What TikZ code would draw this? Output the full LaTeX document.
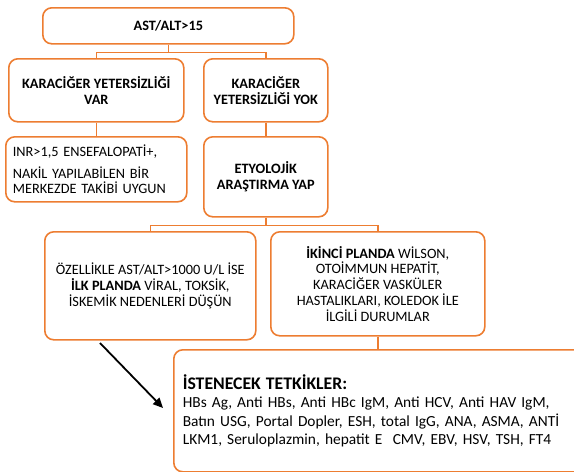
\documentclass[tikz,border=0pt]{standalone}
\usepackage{fontspec}
\setmainfont{Carlito}
\usetikzlibrary{arrows.meta}
\definecolor{orng}{RGB}{237,125,49}
\begin{document}
\begin{tikzpicture}[x=1pt,y=-1pt,
  box/.style={draw=orng, line width=1.6pt, rounded corners=9pt, anchor=north west,
    inner sep=0pt, align=center, font=\fontsize{14.3}{15.8}\selectfont},
  conn/.style={draw=orng, line width=1.6pt},
  arr/.style={draw=black, line width=1.8pt, -{Triangle[length=10pt,width=9pt]}}]
\useasboundingbox (0,0) rectangle (574,472);
\node[box, minimum width=251pt, minimum height=36pt] (top) at (42,7) {\textbf{AST/ALT>15}};
\node[box, minimum width=175pt, minimum height=63pt] (var) at (8,58) {\textbf{KARACİĞER YETERSİZLİĞİ}\\\textbf{VAR}};
\node[box, minimum width=124pt, minimum height=63pt] (yok) at (203,58) {\textbf{KARACİĞER}\\\textbf{YETERSİZLİĞİ YOK}};
\node[box, minimum width=181pt, minimum height=65pt, align=left, text width=167pt, inner xsep=7pt] (inr) at (5,136)
  {INR>1,5 ENSEFALOPATİ+,\\[6pt] NAKİL YAPILABİLEN BİR\\ MERKEZDE TAKİBİ UYGUN};
\node[box, minimum width=124pt, minimum height=80pt] (ety) at (203,136) {\textbf{ETYOLOJİK}\\\textbf{ARAŞTIRMA YAP}};
\node[box, minimum width=211pt, minimum height=108pt] (ozel) at (44,231)
  {ÖZELLİKLE AST/ALT>1000 U/L İSE\\ \textbf{İLK PLANDA} VİRAL, TOKSİK,\\ İSKEMİK NEDENLERİ DÜŞÜN};
\node[box, minimum width=214pt, minimum height=104pt] (iki) at (270,231)
  {\textbf{İKİNCİ PLANDA} WİLSON,\\ OTOİMMUN HEPATİT,\\ KARACİĞER VASKÜLER\\ HASTALIKLARI, KOLEDOK İLE\\ İLGİLİ DURUMLAR};
\node[box, minimum width=412pt, minimum height=122pt, align=left, text width=394pt, inner xsep=9pt,
  font=\fontsize{15.4}{18.6}\selectfont] (ist) at (173,349)
  {{\fontsize{17.7}{19}\selectfont\bfseries İSTENECEK TETKİKLER:}\\
   HBs Ag, Anti HBs, Anti HBc IgM, Anti HCV, Anti HAV IgM,\\
   Batın USG, Portal Dopler, ESH, total IgG, ANA, ASMA, ANTİ\\
   LKM1, Seruloplazmin, hepatit E\ \ CMV, EBV, HSV, TSH, FT4};
% connectors
\draw[conn] (top.south) -- ++(0,8) coordinate (j1);
\draw[conn] (j1) -| (var.north);
\draw[conn] (j1) -| (yok.north);
\draw[conn] (var.south) -- (var.south |- inr.north);
\draw[conn] (yok.south) -- (yok.south |- ety.north);
\draw[conn] (ety.south) -- ++(0,8) coordinate (j2);
\draw[conn] (j2) -| (ozel.north);
\draw[conn] (j2) -| (iki.north);
\draw[conn] (iki.south) -- (iki.south |- ist.north);
\coordinate (a1) at (100,343);
\coordinate (a2) at (163,408);
\draw[arr] (a1) -- (a2);
\end{tikzpicture}
\end{document}
